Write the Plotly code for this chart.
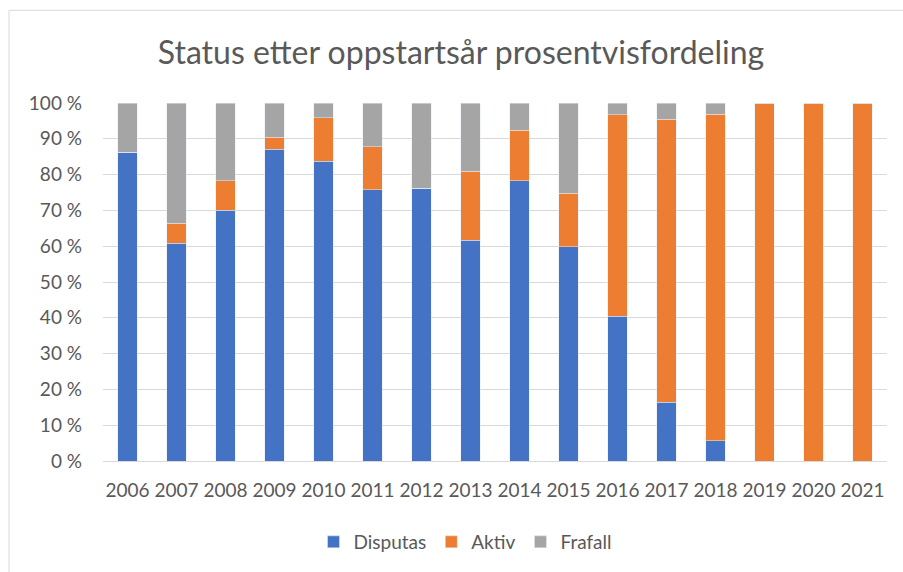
import plotly.graph_objects as go

years = ["2006", "2007", "2008", "2009", "2010", "2011", "2012", "2013",
         "2014", "2015", "2016", "2017", "2018", "2019", "2020", "2021"]
disputas = [86.2, 60.8, 70.1, 87.1, 83.8, 75.8, 76.2, 61.7, 78.3, 59.9, 40.4, 16.4, 5.6, 0, 0, 0]
aktiv = [0, 5.6, 8.2, 3.3, 12.1, 12.0, 0, 19.3, 14.1, 14.9, 56.3, 79.1, 91.3, 100, 100, 100]
frafall = [13.8, 33.6, 21.7, 9.6, 4.1, 12.2, 23.8, 19.0, 7.6, 25.2, 3.3, 4.5, 3.1, 0, 0, 0]
ytickvals = [0, 10, 20, 30, 40, 50, 60, 70, 80, 90, 100]
yticktext = [f"{v} %" for v in ytickvals]

font_family = "Lato, 'Open Sans', sans-serif"
txt = "#595959"

fig = go.Figure()
fig.add_bar(x=years, y=disputas, name="Disputas", marker_color="#4472C4")
fig.add_bar(x=years, y=aktiv, name="Aktiv", marker_color="#ED7D31")
fig.add_bar(x=years, y=frafall, name="Frafall", marker_color="#A5A5A5")

L, R, T, B = 103, 16, 103, 110
W, H = 903, 572
pw = W - L - R
ph = H - T - B

fig.update_layout(
    width=W, height=H,
    barmode="stack", bargap=0.61,
    margin=dict(l=L, r=R, t=T, b=B),
    paper_bgcolor="white", plot_bgcolor="white",
    font=dict(family=font_family, color=txt, size=19),
    title=dict(text="Status etter oppstartsår prosentvisfordeling",
               xref="container", x=461 / W, xanchor="center",
               y=1 - 53 / H, yanchor="middle",
               font=dict(size=32, color=txt, family=font_family)),
    legend=dict(orientation="h", x=(465 - L) / pw, xanchor="center",
                y=(ph - (542 - T)) / ph, yanchor="middle",
                font=dict(size=19, color=txt), traceorder="normal",
                itemwidth=30),
    xaxis=dict(showline=True, linecolor="#d9d9d9", linewidth=1,
               ticks="", tickfont=dict(size=19, color=txt),
               ticklabelstandoff=12, showgrid=False),
    yaxis=dict(range=[0, 100], tickvals=ytickvals, ticktext=yticktext,
               showgrid=True, gridcolor="#d9d9d9", gridwidth=1,
               zeroline=False, tickfont=dict(size=19, color=txt),
               ticklabelstandoff=20, ticks=""),
    shapes=[dict(type="rect", xref="paper", yref="paper",
                 x0=(9 - L) / pw, x1=(W + 5 - L) / pw,
                 y0=(ph - (H + 5 - T)) / ph, y1=(ph - (10 - T)) / ph,
                 line=dict(color="#d9d9d9", width=1), layer="below")],
)

fig.write_html("out.html", config={"displayModeBar": False},
               post_script="document.body.style.margin='0';document.body.style.overflow='hidden';")
